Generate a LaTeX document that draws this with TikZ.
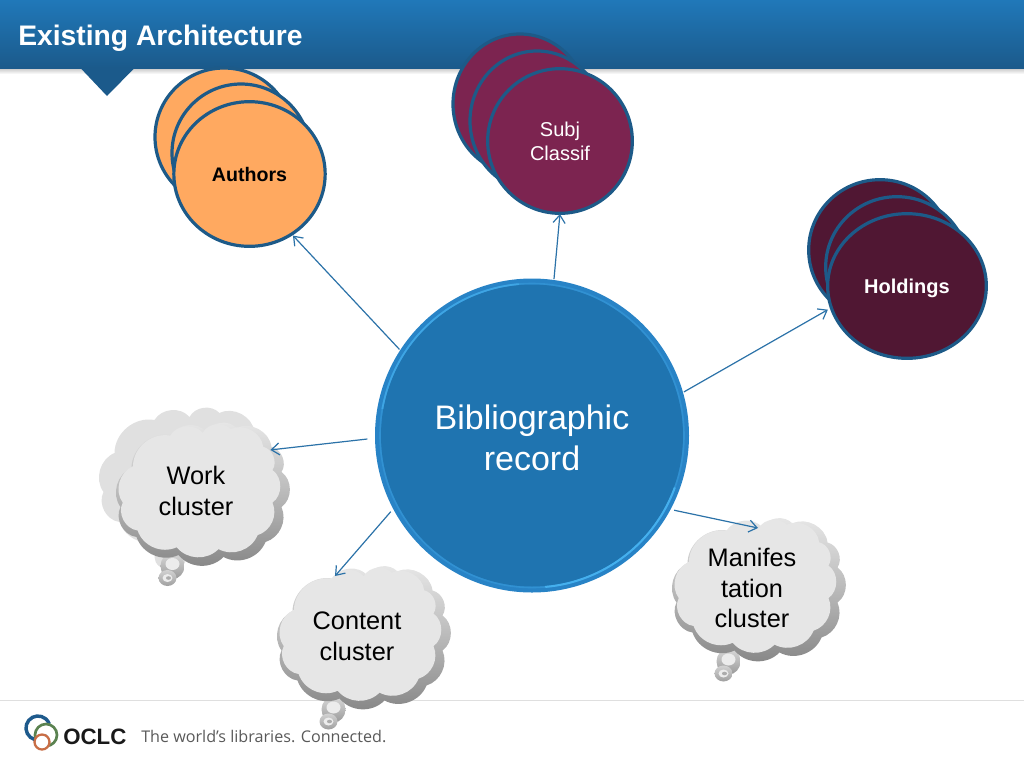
\documentclass[tikz,border=0pt]{standalone}
\usepackage{fontspec}
\setmainfont{Liberation Sans}
\newfontfamily\tagfont{Open Sans}
\usetikzlibrary{shapes.geometric,arrows.meta}
\definecolor{hdrtop}{HTML}{2078B9}
\definecolor{hdrbot}{HTML}{1B5A8B}
\definecolor{rimblue}{HTML}{1D5A88}
\definecolor{biblue}{HTML}{1F74B0}
\definecolor{bibrim}{HTML}{2883C6}
\definecolor{bibglow}{HTML}{45B0EE}
\definecolor{authfill}{HTML}{FFA960}
\definecolor{subjfill}{HTML}{7C2450}
\definecolor{holdfill}{HTML}{501733}
\definecolor{arrowblue}{HTML}{2B72A8}
\definecolor{facegrey}{HTML}{E6E6E6}
\definecolor{ghostgrey}{HTML}{E0E0E0}
\definecolor{logoblue}{HTML}{1E5A8C}
\definecolor{logogreen}{HTML}{5A8250}
\definecolor{logoorange}{HTML}{C86E46}
\tikzset{
  disc/.style={ellipse,draw=rimblue,line width=2.4pt,inner sep=0pt,outer sep=0pt},
  link/.style={draw=arrowblue,line width=0.9pt,-{Straight Barb[length=6pt,width=9pt]}},
  cloudtext/.style={font=\fontsize{19}{23.2}\selectfont,align=center,text=black},
  cloudbody/.style={ellipse,minimum width=130.5pt,minimum height=105.7pt,inner sep=0pt,outer sep=0pt},
}
\newcommand{\cloudpath}{(-71,-26) to[bend left=50] (-31,-59) to[bend left=55] (4,-62) to[bend left=55] (34,-66) to[bend left=55] (69,-47) to[bend left=55] (79,-22) to[bend left=55] (79,13) to[bend left=48] (63,48) to[bend left=48] (21,63) to[bend left=48] (-24,61) to[bend left=48] (-66,43) to[bend left=55] (-82,13) to[bend left=52] cycle}
\newcommand{\bubble}[2]{%
  \begin{scope}[shift={(#1,#2)}]
    \shade[top color=gray!30,bottom color=gray!80] (-30,72) ellipse (12 and 13);
    \fill[gray!15] (-30,70) ellipse (7 and 6);
    \shade[top color=gray!35,bottom color=gray!75] (-35,84) ellipse (9 and 8);
    \fill[gray!15] (-35,84) ellipse (5 and 4);
    \fill[gray!65] (-34,84) ellipse (2.5 and 1.8);
    \shade[top color=gray!18,bottom color=gray!95,middle color=gray!55] \cloudpath;
    \begin{scope}[shift={(-3.5,-3.5)},scale=0.93]
      \fill[facegrey] \cloudpath;
    \end{scope}
  \end{scope}}
\begin{document}
\begin{tikzpicture}[x=0.75pt,y=-0.75pt]
\useasboundingbox (0,0) rectangle (1024,768);
% header
\shade[top color=gray!45,bottom color=white] (0,68) rectangle (1024,74);
\shade[top color=hdrtop,bottom color=hdrbot] (0,0) rectangle (1024,68);
\fill[hdrbot] (80,67.5) -- (135,67.5) -- (107,96) -- cycle;
\node[anchor=base west,inner sep=0pt,text=white,font=\fontsize{21.2}{25}\selectfont\bfseries] (title) at (18,45) {Existing Architecture};
% footer
\draw[gray!25,line width=0.7pt] (0,700) -- (1024,700);
\coordinate (logoA) at (38,728);
\draw[logoblue,line width=2.6pt] (logoA) ++(40:12) arc[start angle=40,end angle=340,radius=12];
\draw[logogreen,line width=2pt] (46,735) circle[radius=11];
\fill[white] (42,742) circle[radius=8];
\draw[logoorange,line width=1.7pt] (42,742) circle[radius=7.5];
\node[anchor=base west,inner sep=0pt,font=\fontsize{16.7}{20}\selectfont\bfseries,text=black!90] (oclc) at (63,744) {OCLC};
\node[anchor=base west,inner sep=0pt,font=\fontsize{12.1}{14}\selectfont\tagfont,text=black!65] (tag) at (141,742) {The world’s libraries. Connected.};
% authors
\node[disc,fill=authfill,minimum width=103.5pt,minimum height=103.5pt] (auth1) at (224,137) {};
\node[disc,fill=authfill,minimum width=103.5pt,minimum height=103.5pt] (auth2) at (241,153) {};
\node[disc,fill=authfill,minimum width=113.5pt,minimum height=108.5pt,font=\fontsize{14.7}{17}\selectfont\bfseries] (auth3) at (249.5,174) {Authors};
% subject classification
\node[disc,fill=subjfill,minimum width=100.5pt,minimum height=105pt] (subj1) at (520,104) {};
\node[disc,fill=subjfill,minimum width=100.5pt,minimum height=105pt] (subj2) at (537,121) {};
\node[disc,fill=subjfill,minimum width=108.5pt,minimum height=108.5pt,align=center,text=white,font=\fontsize{15}{18}\selectfont] (subj3) at (560,141) {Subj\\Classif};
% holdings
\node[disc,fill=holdfill,minimum width=107pt,minimum height=105.5pt] (hold1) at (880,250) {};
\node[disc,fill=holdfill,minimum width=107pt,minimum height=105.5pt] (hold2) at (897,267) {};
\node[disc,fill=holdfill,minimum width=119pt,minimum height=108.5pt,text=white,text depth=0pt,font=\fontsize{15}{18}\selectfont\bfseries] (hold3) at (907,286) {Holdings};
% bibliographic record
\fill[bibrim] (532,435.5) circle[radius=157];
\fill[biblue] (532,435.5) circle[radius=151];
\draw[bibglow!30!bibrim,line width=1.2pt] (532,435.5) circle[radius=152];
\draw[bibglow!75!bibrim,line width=1.3pt] (532,435.5) ++(190:152) arc[start angle=190,end angle=265,radius=152];
\draw[bibglow,line width=1.5pt] (532,435.5) ++(20:152) arc[start angle=20,end angle=85,radius=152];
\node[circle,minimum size=237pt,inner sep=0pt,outer sep=0pt] (bib) at (532,435.5) {};
\node[align=center,text=white,font=\fontsize{25.5}{30.75}\selectfont] (bibtext) at (532,437.5) {Bibliographic\\record};
% clouds
\begin{scope}[shift={(185.5,479)}]
  \fill[ghostgrey] \cloudpath;
  \fill[ghostgrey] (-15,78) ellipse (16 and 13);
\end{scope}
\bubble{202.5}{494}
\bubble{363.5}{637.5}
\bubble{758.5}{589.5}
\node[cloudbody] (work) at (202.5,494) {};
\node[cloudbody] (content) at (363.5,637.5) {};
\node[cloudbody] (manif) at (758.5,589.5) {};
\coordinate (contenttip) at (335,576);
\coordinate (maniftip) at (758,528);
\node[cloudtext] (worktext) at (196,491) {Work\\cluster};
\node[cloudtext] (contenttext) at (357,636) {Content\\cluster};
\node[cloudtext] (maniftext) at (752,588) {Manifes\\tation\\cluster};
% connectors
\draw[link,shorten >=1.5pt] (bib.147.4) -- (auth3.-55);
\draw[link,shorten >=0.5pt] (bib.82.7) -- (subj3.-90);
\draw[link,shorten >=3pt] (bib.16.5) -- (hold3.196.7);
\draw[link,shorten <=5pt] (bib.181.4) -- (work.33);
\draw[link,shorten <=2pt] (bib.208.6) -- (contenttip);
\draw[link,shorten <=2pt] (bib.-28.6) -- (maniftip);
\end{tikzpicture}
\end{document}
